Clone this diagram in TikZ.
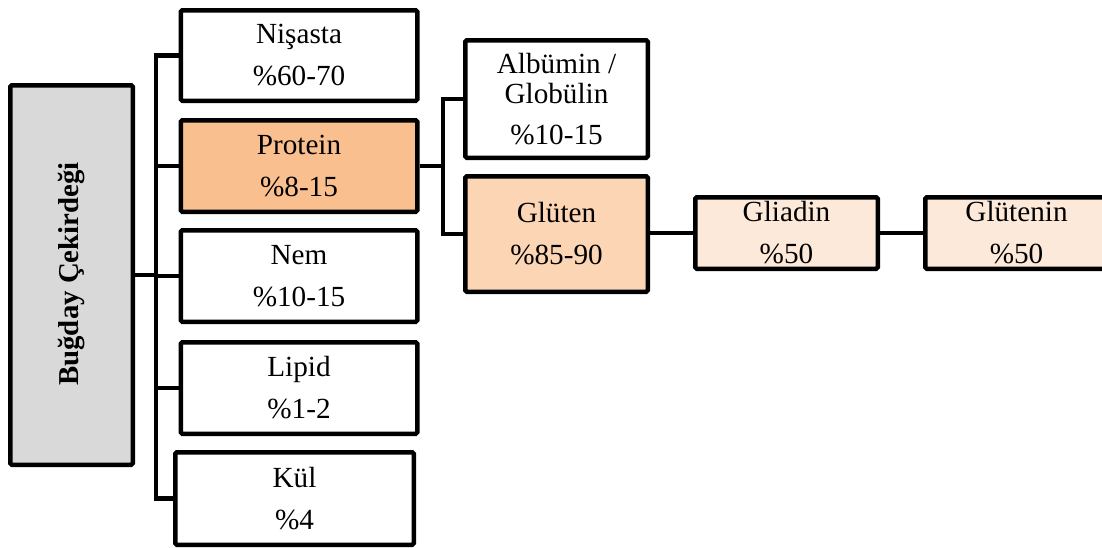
\documentclass[tikz,border=0pt]{standalone}
\usepackage{fontspec}
\setmainfont{Liberation Serif}
\definecolor{maingray}{HTML}{D9D9D9}
\definecolor{prot}{HTML}{FABF8F}
\definecolor{glut}{HTML}{FCD5B4}
\definecolor{light}{HTML}{FDE9D9}
\tikzset{
  box/.style={draw, line width=4.5pt, rounded corners=1.5pt, align=center, inner sep=0pt,
    font=\fontsize{29.2}{42}\selectfont, fill=white},
  conn/.style={line width=4.5pt, line join=miter},
}
\begin{document}
\begin{tikzpicture}[x=1pt, y=-1pt]
\useasboundingbox (0,0) rectangle (1102,547);
\clip (0,0) rectangle (1102,547);
% main
\node[box, fill=maingray, minimum width=122.5pt, minimum height=379.5pt] (main) at (71.5,275) {};
\node[font=\fontsize{28.8}{34}\selectfont\bfseries, rotate=90, inner sep=0pt] (mainlabel) at (71.5,274) {Buğday Çekirdeği};
% column 1
\node[box, minimum width=236.5pt, minimum height=90.5pt] (nis) at (299,55.5) {Nişasta\\\%60-70};
\node[box, fill=prot, minimum width=236.5pt, minimum height=91.5pt] (pro) at (299,166) {Protein\\\%8-15};
\node[box, minimum width=236.5pt, minimum height=91.5pt] (nem) at (299,276) {Nem\\\%10-15};
\node[box, minimum width=236.5pt, minimum height=91.5pt] (lip) at (299,388) {Lipid\\\%1-2};
\node[box, minimum width=238.5pt, minimum height=92.5pt] (kul) at (294.5,498.5) {Kül\\\%4};
% column 2
\node[box, font=\fontsize{29.2}{30}\selectfont, minimum width=182.5pt, minimum height=117.5pt] (alb) at (556.5,99) {Albümin /\\Globülin\\[11pt]\%10-15};
\node[box, fill=glut, minimum width=182.5pt, minimum height=115.5pt] (glu) at (556.5,234) {Glüten\\\%85-90};
% column 3, 4
\node[box, fill=light, minimum width=182.5pt, minimum height=71.5pt] (gli) at (786.5,233) {Gliadin\\\%50};
\node[box, fill=light, minimum width=182.5pt, minimum height=71.5pt] (gte) at (1016.5,233) {Glütenin\\\%50};
% connectors
\coordinate (t) at (156,275);
\coordinate (u) at (443,166);
\draw[conn] (main.east) -- (t);
\draw[conn] (nis.west) -- (nis.west -| t) -- (kul.west -| t) -- (kul.west);
\draw[conn] (pro.west) -- (pro.west -| t);
\draw[conn] (nem.west) -- (nem.west -| t);
\draw[conn] (lip.west) -- (lip.west -| t);
\draw[conn] (pro.east) -- (u);
\draw[conn] (alb.west) -- (alb.west -| u) -- (glu.west -| u) -- (glu.west);
\draw[conn] (glu.east |- gli.west) -- (gli.west);
\draw[conn] (gli.east) -- (gte.west);
\end{tikzpicture}
\end{document}
